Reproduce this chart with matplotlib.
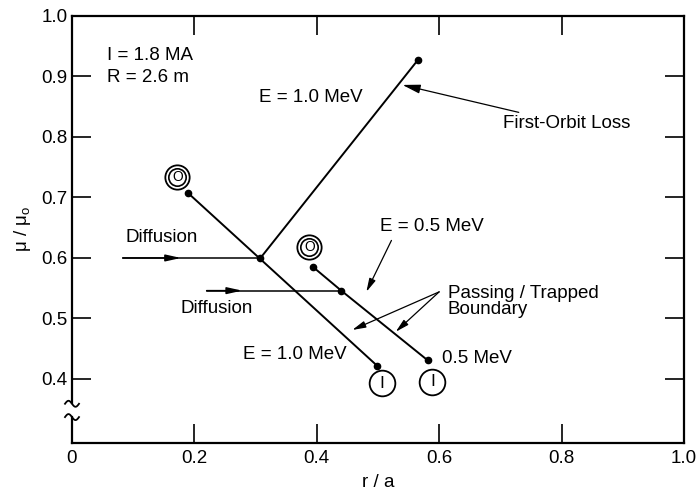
import numpy as np
import matplotlib
matplotlib.use("Agg")
import matplotlib.pyplot as plt

plt.rcParams['font.family'] = ['Liberation Sans', 'DejaVu Sans']
plt.rcParams['mathtext.fontset'] = 'custom'
plt.rcParams['mathtext.rm'] = 'Liberation Sans'
plt.rcParams['mathtext.it'] = 'Liberation Sans'

# orbit lines (r/a, mu/mu0)
orbit_1mev_r = [0.19, 0.308, 0.499]
orbit_1mev_mu = [0.707, 0.598, 0.4215]
loss_1mev_r = [0.308, 0.565]
loss_1mev_mu = [0.600, 0.927]
orbit_05mev_r = [0.394, 0.44, 0.581]
orbit_05mev_mu = [0.585, 0.546, 0.431]

# diffusion arrows: start, arrowhead, end
diff_upper_r = [0.083, 0.178, 0.308]
diff_upper_mu = [0.600, 0.600, 0.600]
diff_lower_r = [0.22, 0.278, 0.44]
diff_lower_mu = [0.546, 0.546, 0.546]

# circled markers
outer_r = [0.172, 0.388]
outer_mu = [0.734, 0.618]
inner_r = [0.507, 0.589]
inner_mu = [0.393, 0.395]

xticks = [0, 0.2, 0.4, 0.6, 0.8, 1.0]
xticklabels = ['0', '0.2', '0.4', '0.6', '0.8', '1.0']
yticks = [0.4, 0.5, 0.6, 0.7, 0.8, 0.9, 1.0]
yticklabels = ['0.4', '0.5', '0.6', '0.7', '0.8', '0.9', '1.0']

fs = 13.5

fig = plt.figure(figsize=(6.99, 4.91), dpi=100)
ax = fig.add_axes([0.103, 0.0978, 0.8755, 0.8697])
ax.set_xlim(0, 1.0)
ax.set_ylim(0.2942, 1.0)

# orbit lines with end dots
ax.plot(orbit_1mev_r, orbit_1mev_mu, color='black', lw=1.4)
ax.plot([orbit_1mev_r[0], orbit_1mev_r[-1]], [orbit_1mev_mu[0], orbit_1mev_mu[-1]],
        'o', color='black', ms=4.5)
ax.plot(loss_1mev_r, loss_1mev_mu, color='black', lw=1.4, marker='o', ms=4.5)
ax.plot(orbit_05mev_r, orbit_05mev_mu, color='black', lw=1.4)
ax.plot(orbit_05mev_r, orbit_05mev_mu, 'o', color='black', ms=4.5)

# diffusion arrows
for rr, mm in [(diff_upper_r, diff_upper_mu), (diff_lower_r, diff_lower_mu)]:
    ax.plot([rr[0], rr[2]], [mm[0], mm[2]], color='black', lw=1.1)
    ax.annotate('', xy=(rr[1], mm[1]), xytext=(rr[0], mm[0]),
                arrowprops=dict(arrowstyle='-|>,head_length=0.9,head_width=0.2',
                                color='black', lw=1.1, shrinkA=0, shrinkB=0))

# circled O / I labels
ax.plot(outer_r, outer_mu, 'o', ms=17.5, mfc='white', mec='black', mew=1.3)
ax.plot(outer_r, outer_mu, 'o', ms=12.5, mfc='white', mec='black', mew=1.2)
for r, m in zip(outer_r, outer_mu):
    ax.text(r, m, 'O', ha='center', va='center', fontsize=10)
ax.plot(inner_r, inner_mu, 'o', ms=18.5, mfc='white', mec='black', mew=1.3)
for r, m in zip(inner_r, inner_mu):
    ax.text(r, m, 'I', ha='center', va='center', fontsize=12.5)

# text annotations
ax.text(0.057, 0.935, 'I = 1.8 MA', fontsize=fs, va='center')
ax.text(0.057, 0.899, 'R = 2.6 m', fontsize=fs, va='center')
ax.text(0.305, 0.866, 'E = 1.0 MeV', fontsize=fs, va='center')
ax.text(0.087, 0.634, 'Diffusion', fontsize=fs, va='center')
ax.text(0.177, 0.517, 'Diffusion', fontsize=fs, va='center')
ax.text(0.28, 0.441, 'E = 1.0 MeV', fontsize=fs, va='center')
ax.text(0.605, 0.434, '0.5 MeV', fontsize=fs, va='center')
ax.text(0.504, 0.652, 'E = 0.5 MeV', fontsize=fs, va='center')
ax.text(0.614, 0.528, 'Passing / Trapped\nBoundary', fontsize=fs, va='center',
        linespacing=0.9)

arrow_kw = dict(arrowstyle='-|>,head_length=0.8,head_width=0.2', color='black',
                lw=0.9, shrinkA=0, shrinkB=0)
ax.annotate('First-Orbit Loss', xy=(0.54, 0.886), xytext=(0.704, 0.822),
            fontsize=fs, va='center', arrowprops=arrow_kw)
ax.annotate('', xy=(0.481, 0.544), xytext=(0.522, 0.629), arrowprops=arrow_kw)
ax.annotate('', xy=(0.458, 0.481), xytext=(0.6, 0.544), arrowprops=arrow_kw)
ax.annotate('', xy=(0.529, 0.478), xytext=(0.6, 0.544), arrowprops=arrow_kw)

# axes styling
ax.set_xticks(xticks)
ax.set_xticklabels(xticklabels)
ax.set_yticks(yticks)
ax.set_yticklabels(yticklabels)
ax.tick_params(direction='in', length=14, width=1.2, labelsize=fs,
               top=True, right=True, pad=5)
ax.tick_params(axis='y', pad=3)
for s in ax.spines.values():
    s.set_linewidth(1.6)
ax.spines['left'].set_bounds(0.360, 1.0)

# y axis break
px_x = 1.0 / 612
px_y = (1.0 - 0.2942) / 427
t = np.linspace(0, 1, 40)
for y0 in [0.359, 0.337]:
    wx = (t - 0.5) * 14 * px_x
    wy = y0 + 3 * px_y * np.sin(2 * np.pi * t)
    ax.plot(wx, wy, color='black', lw=1.3, clip_on=False)
ax.plot([0, 0], [0.2942, 0.337], color='black', lw=1.6, clip_on=False)

ax.set_xlabel('r / a', fontsize=fs, labelpad=5)
ax.set_ylabel(r'$\mu$ / $\mu_{\rm o}$', fontsize=fs)
ax.yaxis.set_label_coords(-0.064, 0.5)

fig.savefig('out.png', dpi=100)
